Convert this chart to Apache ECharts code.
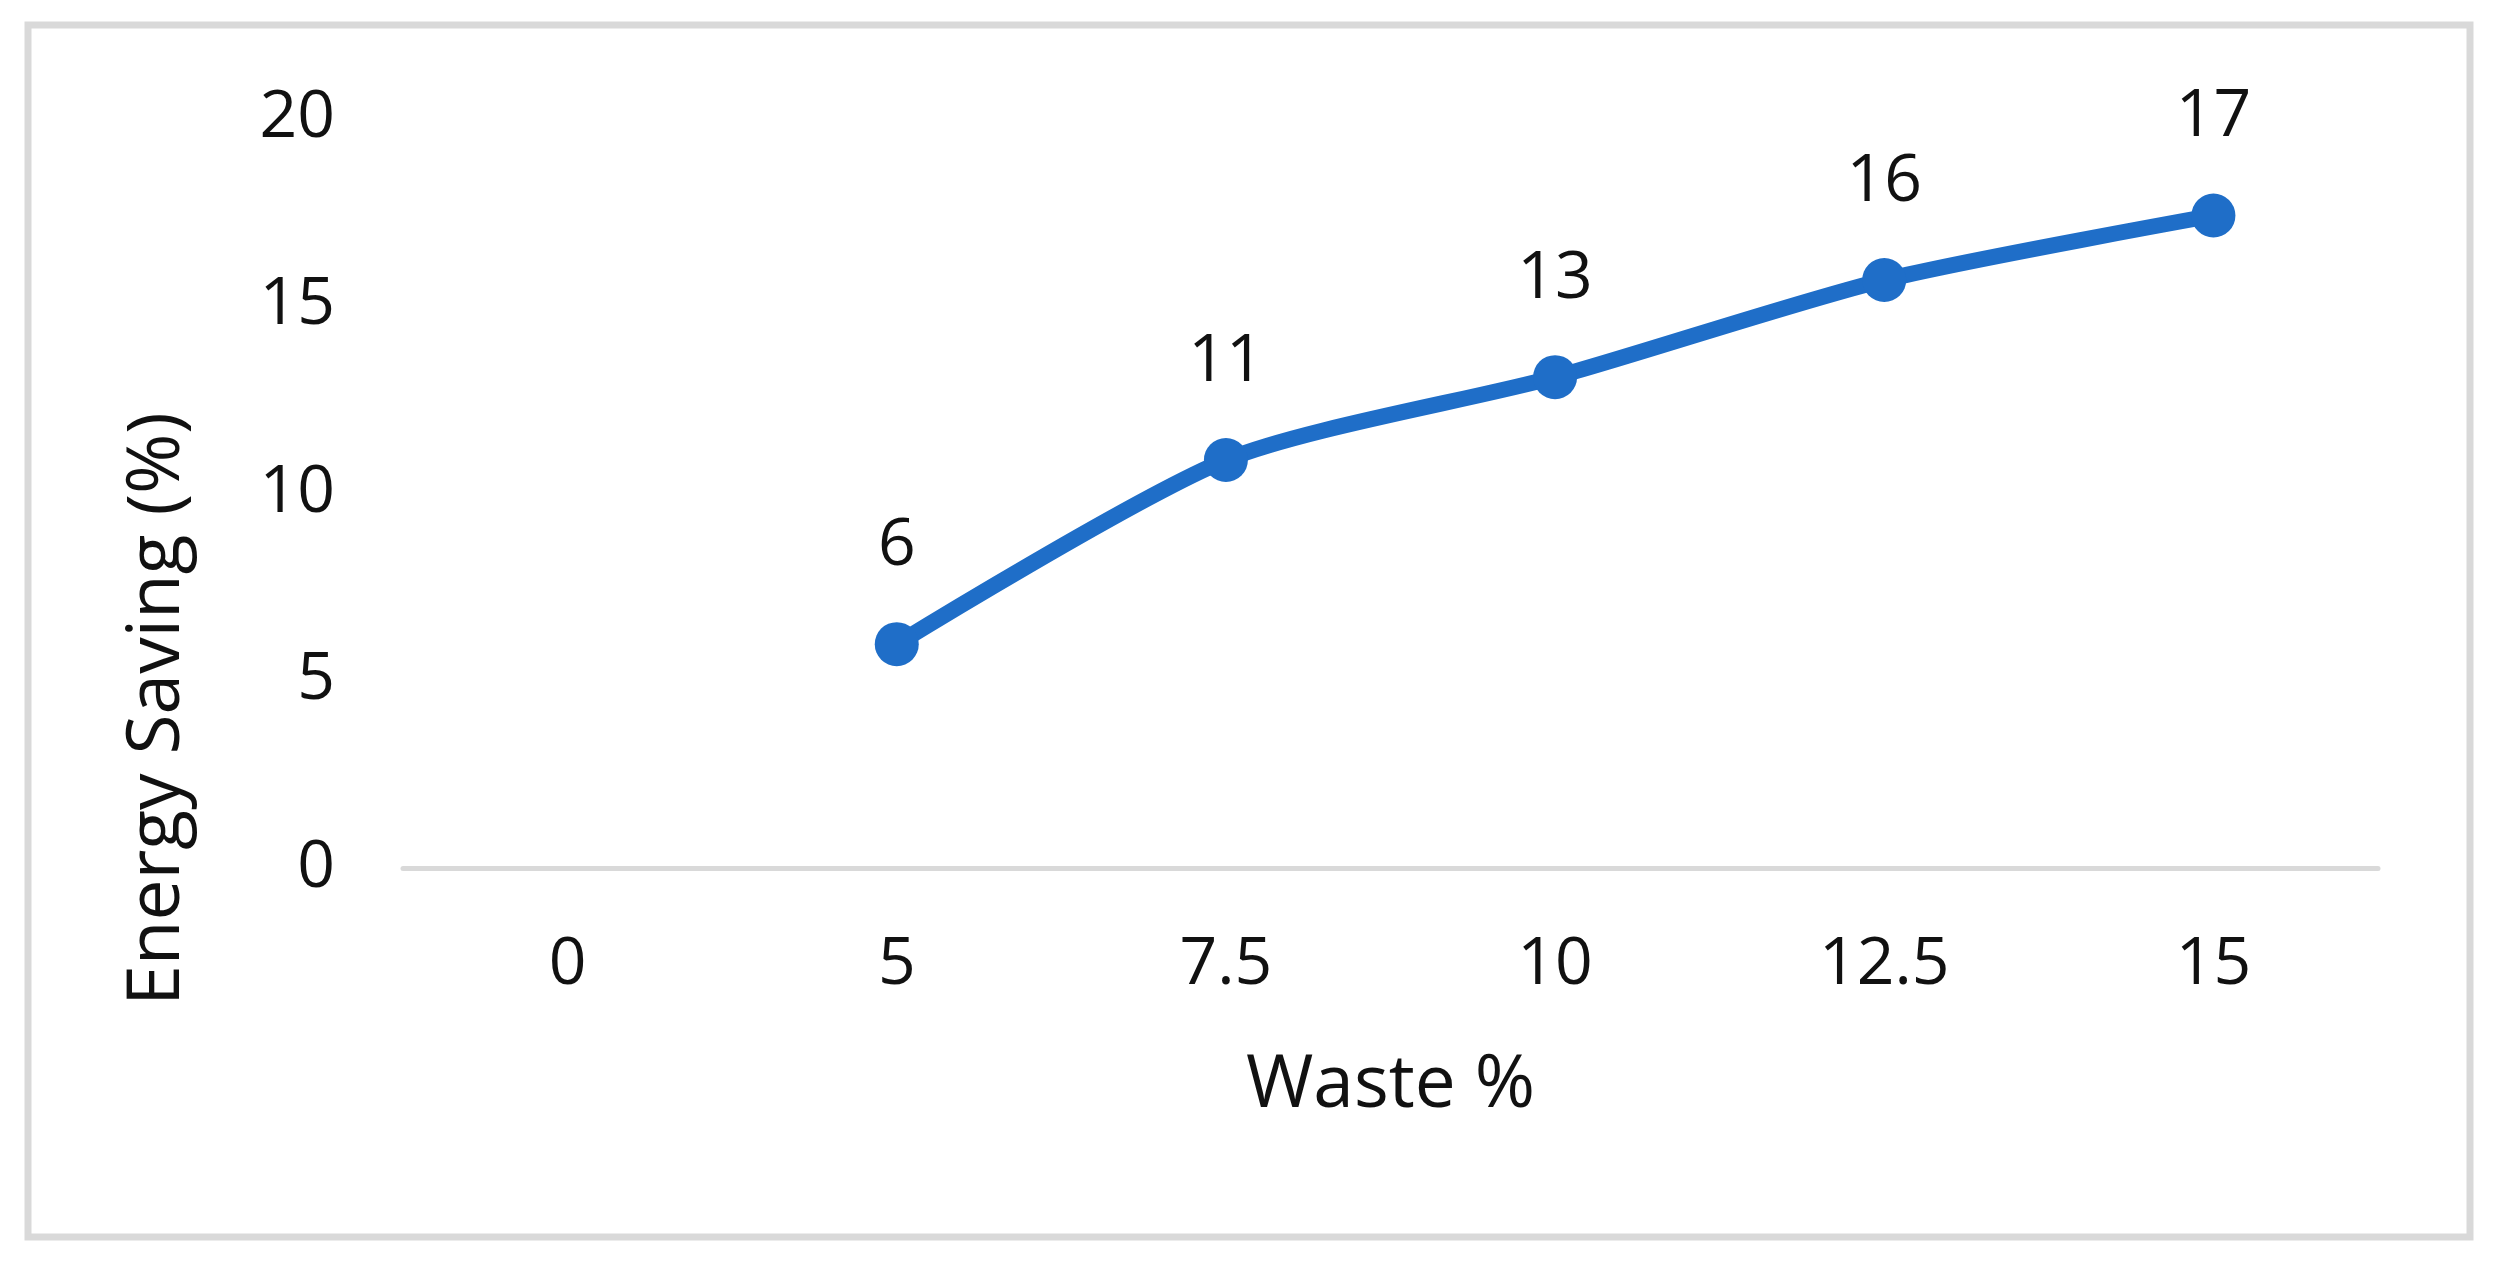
<!DOCTYPE html>
<html>
<head>
<meta charset="utf-8">
<style>
  html, body { margin: 0; padding: 0; background: #fff; }
  #chart { width: 2497px; height: 1267px; }
</style>
<script src="https://cdn.jsdelivr.net/npm/echarts@6/dist/echarts.min.js"></script>
</head>
<body>
<div id="chart"></div>
<script>
// waste share on the x axis, energy saving on the y axis
const wasteCats = ['0', '5', '7.5', '10', '12.5', '15']
const savingValues = [null, 5.97, 10.88, 13.09, 15.68, 17.4]
const savingLabels = ['', '6', '11', '13', '16', '17']
const yTicks = { min: 0, max: 20, interval: 5 }

const chart = echarts.init(document.getElementById('chart'))
const fontFamily = '"Open Sans", "Noto Sans", sans-serif'

const option = {
  animation: false,
  backgroundColor: '#fff',
  grid: {
    left: 403,
    right: 119,
    top: 118,
    bottom: 399,
  },
  graphic: [
    {
      type: 'rect',
      shape: { x: 28, y: 25, width: 2442, height: 1212 },
      style: { fill: 'none', stroke: '#d9d9d9', lineWidth: 7 },
      z: -1,
    },
    {
      type: 'text',
      x: 158,
      y: 709,
      rotation: Math.PI / 2,
      style: {
        text: 'Energy Saving (%)',
        fontSize: 73,
        fontFamily: fontFamily,
        fill: '#111',
        align: 'center',
        verticalAlign: 'middle',
      },
    },
  ],
  xAxis: {
    type: 'category',
    data: wasteCats,
    boundaryGap: true,
    name: 'Waste %',
    nameLocation: 'middle',
    nameGap: 182,
    nameTextStyle: {
      fontSize: 73,
      fontFamily: fontFamily,
      color: '#111',
    },
    axisLine: { lineStyle: { color: '#d9d9d9', width: 5 } },
    axisTick: { show: false },
    axisLabel: {
      fontSize: 66,
      fontFamily: fontFamily,
      color: '#111',
      margin: 64,
    },
  },
  yAxis: {
    type: 'value',
    min: yTicks.min,
    max: yTicks.max,
    interval: yTicks.interval,
    axisLine: { show: false },
    axisTick: { show: false },
    splitLine: { show: false },
    axisLabel: {
      fontSize: 66,
      fontFamily: fontFamily,
      color: '#111',
      margin: 68,
    },
  },
  series: [
    {
      type: 'line',
      data: savingValues,
      smooth: 0.25,
      symbol: 'circle',
      symbolSize: 44,
      lineStyle: { color: '#1f6ec8', width: 16 },
      itemStyle: { color: '#1f6ec8' },
      label: {
        show: true,
        position: 'top',
        distance: 43,
        fontSize: 66,
        fontFamily: fontFamily,
        color: '#111',
        formatter: (p) => savingLabels[p.dataIndex],
      },
    },
  ],
}

chart.setOption(option)
</script>
</body>
</html>
